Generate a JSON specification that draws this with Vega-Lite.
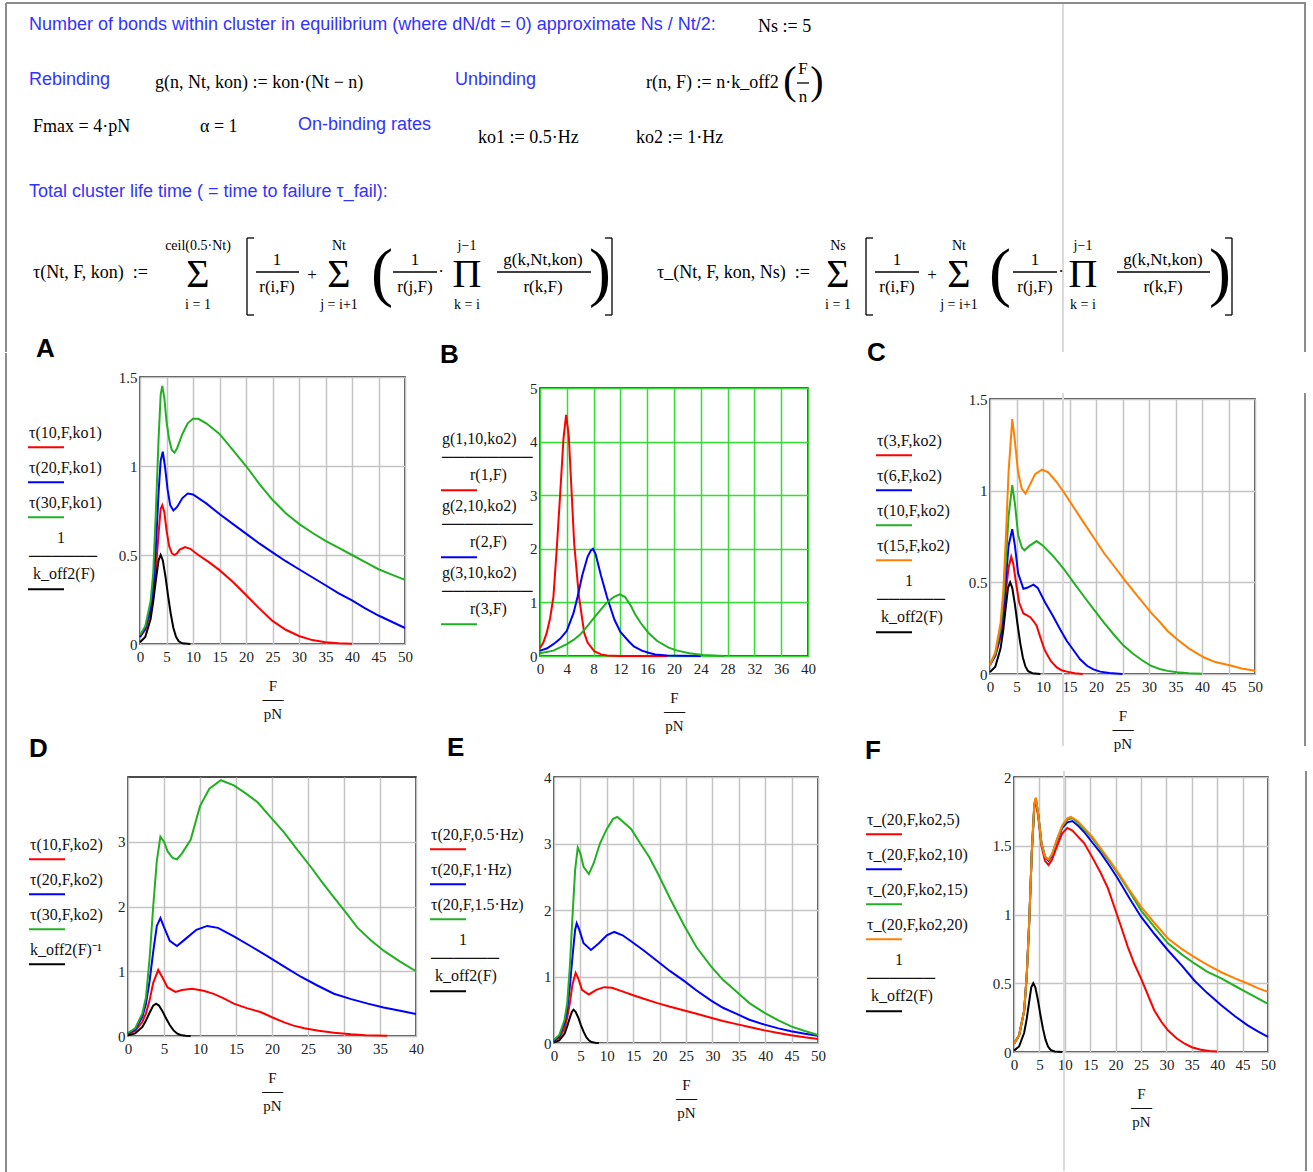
{
"$schema": "https://vega.github.io/schema/vega-lite/v6.json",
"background": "white",
"padding": {"left": 5, "top": 0, "right": 0, "bottom": 0},
"spacing": -18,
"resolve": {"scale": {"x": "independent", "y": "independent", "color": "independent", "shape": "independent"}},
"config": {
  "view": {"stroke": "#111", "strokeWidth": 1.5},
  "axis": {"labelFont": "Liberation Serif", "labelFontSize": 15, "labelColor": "#222", "ticks": false, "domain": false, "gridColor": "#c4c4c4", "gridWidth": 1.5, "titleFont": "Liberation Serif", "titleFontSize": 15, "titleFontWeight": "normal", "titleColor": "#111", "labelFlush": false, "labelOverlap": false, "labelBound": false},
  "axisY": {"title": null, "labelPadding": 3, "format": "~g"},
  "axisX": {"labelPadding": 5, "titlePadding": 14, "titleLineHeight": 14},
  "legend": {"orient": "none", "symbolType": "M-1,0.35L1,0.35", "symbolSize": 1296, "symbolStrokeWidth": 3, "labelOffset": -36, "labelBaseline": "bottom", "labelFont": "Liberation Serif", "labelFontSize": 16, "labelColor": "#111", "labelLimit": 400, "rowPadding": 5, "padding": 0},
  "title": {"font": "Liberation Sans", "fontSize": 26, "fontWeight": "bold", "color": "#000", "anchor": "start", "frame": "bounds"},
  "line": {"strokeWidth": 2, "clip": true}
},
"datasets": {
  "hFrame": [
    {"x": 6, "x2": 1306, "y": 3, "y2": 3},
    {"x": 6, "x2": 6, "y": 3, "y2": 352},
    {"x": 1305, "x2": 1305, "y": 3, "y2": 352}
  ],
  "hFaint": [
    {"x": 1063, "x2": 1063, "y": 4, "y2": 352}
  ],
  "hRules": [
    {"x": 256, "x2": 299, "y": 272, "y2": 272},
    {"x": 393, "x2": 437, "y": 272, "y2": 272},
    {"x": 497, "x2": 591, "y": 272, "y2": 272},
    {"x": 875, "x2": 919, "y": 272, "y2": 272},
    {"x": 1013, "x2": 1057, "y": 272, "y2": 272},
    {"x": 1117, "x2": 1210, "y": 272, "y2": 272},
    {"x": 797, "x2": 809, "y": 83, "y2": 83},
    {"x": 247, "x2": 247, "y": 238, "y2": 315},
    {"x": 247, "x2": 254, "y": 238, "y2": 238},
    {"x": 247, "x2": 254, "y": 315, "y2": 315},
    {"x": 612, "x2": 612, "y": 238, "y2": 315},
    {"x": 605, "x2": 612, "y": 238, "y2": 238},
    {"x": 605, "x2": 612, "y": 315, "y2": 315},
    {"x": 866, "x2": 866, "y": 238, "y2": 315},
    {"x": 866, "x2": 873, "y": 238, "y2": 238},
    {"x": 866, "x2": 873, "y": 315, "y2": 315},
    {"x": 1232, "x2": 1232, "y": 238, "y2": 315},
    {"x": 1225, "x2": 1232, "y": 238, "y2": 238},
    {"x": 1225, "x2": 1232, "y": 315, "y2": 315}
  ],
  "hProse": [
    {"x": 29, "y": 25, "t": "Number of bonds within cluster in equilibrium (where dN/dt = 0) approximate Ns / Nt/2:"},
    {"x": 29, "y": 80, "t": "Rebinding"},
    {"x": 455, "y": 80, "t": "Unbinding"},
    {"x": 298, "y": 125, "t": "On-binding rates"},
    {"x": 29, "y": 192, "t": "Total cluster life time ( = time to failure τ_fail):"}
  ],
  "hMath": [
    {"x": 758, "y": 27, "t": "Ns := 5"},
    {"x": 155, "y": 83, "t": "g(n, Nt, kon) := kon·(Nt − n)"},
    {"x": 646, "y": 83, "t": "r(n, F) := n·k_off2"},
    {"x": 33, "y": 127, "t": "Fmax = 4·pN"},
    {"x": 200, "y": 127, "t": "α = 1"},
    {"x": 478, "y": 138, "t": "ko1 := 0.5·Hz"},
    {"x": 636, "y": 138, "t": "ko2 := 1·Hz"},
    {"x": 33, "y": 273, "t": "τ(Nt, F, kon)\u00a0\u00a0:="},
    {"x": 657, "y": 273, "t": "τ_(Nt, F, kon, Ns)\u00a0\u00a0:="}
  ],
  "hCenter": [
    {"x": 803, "y": 69, "t": "F"}, {"x": 803, "y": 97, "t": "n"},
    {"x": 277, "y": 260, "t": "1"}, {"x": 277, "y": 287, "t": "r(i,F)"},
    {"x": 312, "y": 275, "t": "+"},
    {"x": 415, "y": 260, "t": "1"}, {"x": 415, "y": 287, "t": "r(j,F)"},
    {"x": 441, "y": 272, "t": "·"},
    {"x": 543, "y": 260, "t": "g(k,Nt,kon)"}, {"x": 543, "y": 287, "t": "r(k,F)"},
    {"x": 897, "y": 260, "t": "1"}, {"x": 897, "y": 287, "t": "r(i,F)"},
    {"x": 932, "y": 275, "t": "+"},
    {"x": 1035, "y": 260, "t": "1"}, {"x": 1035, "y": 287, "t": "r(j,F)"},
    {"x": 1061, "y": 272, "t": "·"},
    {"x": 1163, "y": 260, "t": "g(k,Nt,kon)"}, {"x": 1163, "y": 287, "t": "r(k,F)"}
  ],
  "hLimits": [
    {"x": 198, "y": 246, "t": "ceil(0.5·Nt)"}, {"x": 198, "y": 305, "t": "i = 1"},
    {"x": 339, "y": 246, "t": "Nt"}, {"x": 339, "y": 305, "t": "j = i+1"},
    {"x": 467, "y": 246, "t": "j−1"}, {"x": 467, "y": 305, "t": "k = i"},
    {"x": 838, "y": 246, "t": "Ns"}, {"x": 838, "y": 305, "t": "i = 1"},
    {"x": 959, "y": 246, "t": "Nt"}, {"x": 959, "y": 305, "t": "j = i+1"},
    {"x": 1083, "y": 246, "t": "j−1"}, {"x": 1083, "y": 305, "t": "k = i"}
  ],
  "hBig": [
    {"x": 198, "y": 275, "t": "Σ"}, {"x": 339, "y": 275, "t": "Σ"}, {"x": 467, "y": 275, "t": "Π"},
    {"x": 838, "y": 275, "t": "Σ"}, {"x": 959, "y": 275, "t": "Σ"}, {"x": 1083, "y": 275, "t": "Π"}
  ],
  "hParen": [
    {"x": 382, "y": 274, "t": "("}, {"x": 600, "y": 274, "t": ")"},
    {"x": 1000, "y": 274, "t": "("}, {"x": 1220, "y": 274, "t": ")"}
  ],
  "hParenSmall": [
    {"x": 790, "y": 82, "t": "("}, {"x": 817, "y": 82, "t": ")"}
  ],
  "A": [
    {"s":"r","F":0,"v":0.04},{"s":"r","F":1,"v":0.08},{"s":"r","F":2,"v":0.18},{"s":"r","F":2.5,"v":0.27},{"s":"r","F":3,"v":0.42},{"s":"r","F":3.5,"v":0.62},{"s":"r","F":3.9,"v":0.76},{"s":"r","F":4.2,"v":0.78},{"s":"r","F":4.6,"v":0.74},{"s":"r","F":5,"v":0.64},{"s":"r","F":5.5,"v":0.55},{"s":"r","F":6,"v":0.51},{"s":"r","F":6.5,"v":0.5},{"s":"r","F":7,"v":0.51},{"s":"r","F":7.5,"v":0.53},{"s":"r","F":8.5,"v":0.545},{"s":"r","F":9.5,"v":0.535},{"s":"r","F":11,"v":0.5},{"s":"r","F":13,"v":0.46},{"s":"r","F":15,"v":0.415},{"s":"r","F":17.5,"v":0.35},{"s":"r","F":20,"v":0.275},{"s":"r","F":22.5,"v":0.2},{"s":"r","F":25,"v":0.13},{"s":"r","F":27.5,"v":0.08},{"s":"r","F":30,"v":0.045},{"s":"r","F":32.5,"v":0.022},{"s":"r","F":35,"v":0.01},{"s":"r","F":37.5,"v":0.004},{"s":"r","F":40,"v":0.002},
    {"s":"b","F":0,"v":0.04},{"s":"b","F":1,"v":0.09},{"s":"b","F":2,"v":0.2},{"s":"b","F":2.5,"v":0.32},{"s":"b","F":3,"v":0.55},{"s":"b","F":3.5,"v":0.85},{"s":"b","F":3.9,"v":1.03},{"s":"b","F":4.3,"v":1.08},{"s":"b","F":4.7,"v":1.0},{"s":"b","F":5.2,"v":0.87},{"s":"b","F":5.7,"v":0.78},{"s":"b","F":6.3,"v":0.75},{"s":"b","F":7,"v":0.77},{"s":"b","F":8,"v":0.82},{"s":"b","F":9,"v":0.845},{"s":"b","F":10,"v":0.84},{"s":"b","F":12.5,"v":0.79},{"s":"b","F":15,"v":0.73},{"s":"b","F":17.5,"v":0.675},{"s":"b","F":20,"v":0.62},{"s":"b","F":22.5,"v":0.565},{"s":"b","F":25,"v":0.515},{"s":"b","F":27.5,"v":0.465},{"s":"b","F":30,"v":0.42},{"s":"b","F":32.5,"v":0.375},{"s":"b","F":35,"v":0.33},{"s":"b","F":37.5,"v":0.285},{"s":"b","F":40,"v":0.245},{"s":"b","F":42.5,"v":0.2},{"s":"b","F":45,"v":0.16},{"s":"b","F":47.5,"v":0.125},{"s":"b","F":50,"v":0.09},
    {"s":"g","F":0,"v":0.05},{"s":"g","F":1,"v":0.1},{"s":"g","F":2,"v":0.24},{"s":"g","F":2.5,"v":0.4},{"s":"g","F":3,"v":0.75},{"s":"g","F":3.5,"v":1.15},{"s":"g","F":3.9,"v":1.4},{"s":"g","F":4.2,"v":1.45},{"s":"g","F":4.6,"v":1.38},{"s":"g","F":5,"v":1.25},{"s":"g","F":5.5,"v":1.15},{"s":"g","F":6,"v":1.09},{"s":"g","F":6.5,"v":1.075},{"s":"g","F":7,"v":1.1},{"s":"g","F":8,"v":1.18},{"s":"g","F":9,"v":1.24},{"s":"g","F":10,"v":1.265},{"s":"g","F":11,"v":1.265},{"s":"g","F":12.5,"v":1.24},{"s":"g","F":15,"v":1.18},{"s":"g","F":17.5,"v":1.09},{"s":"g","F":20,"v":1.0},{"s":"g","F":22.5,"v":0.9},{"s":"g","F":25,"v":0.81},{"s":"g","F":27.5,"v":0.735},{"s":"g","F":30,"v":0.675},{"s":"g","F":32.5,"v":0.625},{"s":"g","F":35,"v":0.58},{"s":"g","F":37.5,"v":0.54},{"s":"g","F":40,"v":0.5},{"s":"g","F":42.5,"v":0.46},{"s":"g","F":45,"v":0.42},{"s":"g","F":47.5,"v":0.39},{"s":"g","F":50,"v":0.36},
    {"s":"k","F":0,"v":0.01},{"s":"k","F":1,"v":0.04},{"s":"k","F":2,"v":0.14},{"s":"k","F":2.5,"v":0.24},{"s":"k","F":3,"v":0.36},{"s":"k","F":3.5,"v":0.47},{"s":"k","F":3.9,"v":0.5},{"s":"k","F":4.3,"v":0.47},{"s":"k","F":4.8,"v":0.38},{"s":"k","F":5.3,"v":0.27},{"s":"k","F":5.8,"v":0.17},{"s":"k","F":6.3,"v":0.09},{"s":"k","F":6.8,"v":0.04},{"s":"k","F":7.3,"v":0.015},{"s":"k","F":8,"v":0.004},{"s":"k","F":9.5,"v":0}
  ],
  "B": [
    {"s":"r","F":0,"v":0.15},{"s":"r","F":0.5,"v":0.25},{"s":"r","F":1,"v":0.43},{"s":"r","F":1.5,"v":0.7},{"s":"r","F":2,"v":1.1},{"s":"r","F":2.5,"v":2.0},{"s":"r","F":3,"v":3.0},{"s":"r","F":3.5,"v":4.05},{"s":"r","F":3.9,"v":4.5},{"s":"r","F":4.3,"v":4.1},{"s":"r","F":4.6,"v":3.35},{"s":"r","F":5.1,"v":2.1},{"s":"r","F":5.8,"v":1.12},{"s":"r","F":6.6,"v":0.43},{"s":"r","F":7.1,"v":0.25},{"s":"r","F":8.1,"v":0.09},{"s":"r","F":9.1,"v":0.03},{"s":"r","F":10,"v":0.01},{"s":"r","F":12,"v":0.002},{"s":"r","F":19,"v":0},
    {"s":"b","F":0,"v":0.1},{"s":"b","F":1,"v":0.14},{"s":"b","F":2,"v":0.22},{"s":"b","F":3,"v":0.32},{"s":"b","F":4,"v":0.47},{"s":"b","F":5,"v":0.8},{"s":"b","F":5.6,"v":1.1},{"s":"b","F":6.3,"v":1.5},{"s":"b","F":7.1,"v":1.85},{"s":"b","F":7.6,"v":1.97},{"s":"b","F":7.9,"v":2.0},{"s":"b","F":8.3,"v":1.9},{"s":"b","F":9.1,"v":1.5},{"s":"b","F":10,"v":1.1},{"s":"b","F":11.1,"v":0.68},{"s":"b","F":12,"v":0.45},{"s":"b","F":13.2,"v":0.28},{"s":"b","F":14,"v":0.18},{"s":"b","F":15.2,"v":0.1},{"s":"b","F":16.2,"v":0.06},{"s":"b","F":17.2,"v":0.03},{"s":"b","F":19,"v":0.01},{"s":"b","F":21,"v":0.003},{"s":"b","F":24,"v":0},
    {"s":"g","F":0,"v":0.05},{"s":"g","F":2,"v":0.1},{"s":"g","F":4,"v":0.22},{"s":"g","F":5,"v":0.3},{"s":"g","F":6,"v":0.4},{"s":"g","F":7.1,"v":0.56},{"s":"g","F":8,"v":0.7},{"s":"g","F":9.1,"v":0.87},{"s":"g","F":10,"v":1.0},{"s":"g","F":11,"v":1.1},{"s":"g","F":11.9,"v":1.15},{"s":"g","F":12.7,"v":1.1},{"s":"g","F":13.5,"v":0.95},{"s":"g","F":14.2,"v":0.78},{"s":"g","F":15,"v":0.62},{"s":"g","F":16.2,"v":0.43},{"s":"g","F":17.5,"v":0.28},{"s":"g","F":19.2,"v":0.155},{"s":"g","F":20.5,"v":0.1},{"s":"g","F":22.3,"v":0.05},{"s":"g","F":24.3,"v":0.02},{"s":"g","F":26,"v":0.008},{"s":"g","F":27.5,"v":0}
  ],
  "C": [
    {"s":"r","F":0,"v":0.05},{"s":"r","F":1,"v":0.1},{"s":"r","F":2,"v":0.2},{"s":"r","F":2.5,"v":0.3},{"s":"r","F":3,"v":0.45},{"s":"r","F":3.5,"v":0.58},{"s":"r","F":4,"v":0.64},{"s":"r","F":4.4,"v":0.6},{"s":"r","F":5,"v":0.48},{"s":"r","F":5.5,"v":0.39},{"s":"r","F":6.3,"v":0.33},{"s":"r","F":7,"v":0.32},{"s":"r","F":7.6,"v":0.31},{"s":"r","F":8.3,"v":0.285},{"s":"r","F":8.8,"v":0.264},{"s":"r","F":9.5,"v":0.2},{"s":"r","F":10.2,"v":0.14},{"s":"r","F":10.7,"v":0.11},{"s":"r","F":11.5,"v":0.07},{"s":"r","F":12.6,"v":0.036},{"s":"r","F":13.5,"v":0.02},{"s":"r","F":14.5,"v":0.013},{"s":"r","F":16,"v":0.004},{"s":"r","F":17.5,"v":0},
    {"s":"b","F":0,"v":0.05},{"s":"b","F":1,"v":0.1},{"s":"b","F":2,"v":0.22},{"s":"b","F":2.5,"v":0.34},{"s":"b","F":3,"v":0.52},{"s":"b","F":3.5,"v":0.7},{"s":"b","F":4.2,"v":0.79},{"s":"b","F":4.7,"v":0.7},{"s":"b","F":5.3,"v":0.55},{"s":"b","F":6.3,"v":0.465},{"s":"b","F":7,"v":0.47},{"s":"b","F":8.2,"v":0.487},{"s":"b","F":9,"v":0.47},{"s":"b","F":10.4,"v":0.39},{"s":"b","F":11.8,"v":0.32},{"s":"b","F":13.2,"v":0.246},{"s":"b","F":14.5,"v":0.18},{"s":"b","F":15.8,"v":0.128},{"s":"b","F":17,"v":0.08},{"s":"b","F":18.3,"v":0.045},{"s":"b","F":19.5,"v":0.025},{"s":"b","F":20.8,"v":0.013},{"s":"b","F":22.5,"v":0.005},{"s":"b","F":25,"v":0},
    {"s":"g","F":0,"v":0.05},{"s":"g","F":1,"v":0.11},{"s":"g","F":2,"v":0.25},{"s":"g","F":2.5,"v":0.4},{"s":"g","F":3,"v":0.62},{"s":"g","F":3.5,"v":0.86},{"s":"g","F":4.2,"v":1.03},{"s":"g","F":4.7,"v":0.93},{"s":"g","F":5.3,"v":0.76},{"s":"g","F":6,"v":0.69},{"s":"g","F":6.5,"v":0.675},{"s":"g","F":7.5,"v":0.7},{"s":"g","F":8.8,"v":0.725},{"s":"g","F":10,"v":0.7},{"s":"g","F":12,"v":0.64},{"s":"g","F":13.9,"v":0.574},{"s":"g","F":16,"v":0.49},{"s":"g","F":17.8,"v":0.42},{"s":"g","F":19.5,"v":0.355},{"s":"g","F":21.5,"v":0.28},{"s":"g","F":23.5,"v":0.21},{"s":"g","F":25.2,"v":0.155},{"s":"g","F":27,"v":0.11},{"s":"g","F":28.7,"v":0.075},{"s":"g","F":30.3,"v":0.046},{"s":"g","F":32,"v":0.027},{"s":"g","F":33.5,"v":0.017},{"s":"g","F":35.3,"v":0.01},{"s":"g","F":37.5,"v":0.004},{"s":"g","F":40,"v":0.001},
    {"s":"o","F":0,"v":0.05},{"s":"o","F":1,"v":0.12},{"s":"o","F":2,"v":0.28},{"s":"o","F":2.5,"v":0.45},{"s":"o","F":3,"v":0.75},{"s":"o","F":3.5,"v":1.1},{"s":"o","F":4.2,"v":1.39},{"s":"o","F":4.7,"v":1.27},{"s":"o","F":5.3,"v":1.1},{"s":"o","F":6,"v":1.01},{"s":"o","F":6.7,"v":0.984},{"s":"o","F":7.5,"v":1.03},{"s":"o","F":8.5,"v":1.09},{"s":"o","F":9.8,"v":1.115},{"s":"o","F":11,"v":1.1},{"s":"o","F":12.5,"v":1.05},{"s":"o","F":13.9,"v":0.993},{"s":"o","F":16,"v":0.9},{"s":"o","F":17.8,"v":0.82},{"s":"o","F":19.5,"v":0.747},{"s":"o","F":21.5,"v":0.66},{"s":"o","F":23.5,"v":0.585},{"s":"o","F":25.2,"v":0.52},{"s":"o","F":27,"v":0.455},{"s":"o","F":28.7,"v":0.395},{"s":"o","F":30.3,"v":0.337},{"s":"o","F":32,"v":0.285},{"s":"o","F":33.5,"v":0.235},{"s":"o","F":35.3,"v":0.19},{"s":"o","F":37.5,"v":0.14},{"s":"o","F":40.4,"v":0.09},{"s":"o","F":42.5,"v":0.065},{"s":"o","F":45.4,"v":0.046},{"s":"o","F":47.5,"v":0.03},{"s":"o","F":50,"v":0.018},
    {"s":"k","F":0,"v":0.01},{"s":"k","F":1,"v":0.04},{"s":"k","F":2,"v":0.14},{"s":"k","F":2.5,"v":0.24},{"s":"k","F":3,"v":0.37},{"s":"k","F":3.4,"v":0.47},{"s":"k","F":3.8,"v":0.5},{"s":"k","F":4.2,"v":0.47},{"s":"k","F":4.7,"v":0.38},{"s":"k","F":5.2,"v":0.27},{"s":"k","F":5.7,"v":0.17},{"s":"k","F":6.2,"v":0.09},{"s":"k","F":6.7,"v":0.04},{"s":"k","F":7.2,"v":0.015},{"s":"k","F":8,"v":0.004},{"s":"k","F":9.5,"v":0}
  ],
  "D": [
    {"s":"r","F":0,"v":0.03},{"s":"r","F":1,"v":0.08},{"s":"r","F":2,"v":0.22},{"s":"r","F":2.5,"v":0.35},{"s":"r","F":3,"v":0.55},{"s":"r","F":3.5,"v":0.82},{"s":"r","F":4.2,"v":1.02},{"s":"r","F":4.8,"v":0.9},{"s":"r","F":5.5,"v":0.75},{"s":"r","F":6.6,"v":0.68},{"s":"r","F":7.5,"v":0.71},{"s":"r","F":8.9,"v":0.73},{"s":"r","F":10.5,"v":0.7},{"s":"r","F":11.9,"v":0.65},{"s":"r","F":13.3,"v":0.58},{"s":"r","F":14.7,"v":0.5},{"s":"r","F":16.5,"v":0.43},{"s":"r","F":18.4,"v":0.37},{"s":"r","F":20,"v":0.29},{"s":"r","F":21.7,"v":0.21},{"s":"r","F":23,"v":0.16},{"s":"r","F":24.5,"v":0.12},{"s":"r","F":26.5,"v":0.08},{"s":"r","F":28.6,"v":0.05},{"s":"r","F":31,"v":0.026},{"s":"r","F":33,"v":0.012},{"s":"r","F":36,"v":0.003},
    {"s":"b","F":0,"v":0.04},{"s":"b","F":1,"v":0.1},{"s":"b","F":2,"v":0.3},{"s":"b","F":2.5,"v":0.5},{"s":"b","F":3,"v":0.85},{"s":"b","F":3.5,"v":1.3},{"s":"b","F":4,"v":1.7},{"s":"b","F":4.5,"v":1.82},{"s":"b","F":5,"v":1.68},{"s":"b","F":5.8,"v":1.47},{"s":"b","F":6.8,"v":1.39},{"s":"b","F":8,"v":1.5},{"s":"b","F":9.5,"v":1.64},{"s":"b","F":11,"v":1.7},{"s":"b","F":12.5,"v":1.67},{"s":"b","F":14.7,"v":1.54},{"s":"b","F":17,"v":1.39},{"s":"b","F":19.4,"v":1.23},{"s":"b","F":21.7,"v":1.07},{"s":"b","F":24,"v":0.915},{"s":"b","F":26.3,"v":0.78},{"s":"b","F":28.6,"v":0.653},{"s":"b","F":31,"v":0.57},{"s":"b","F":33.3,"v":0.5},{"s":"b","F":35.5,"v":0.44},{"s":"b","F":37.8,"v":0.39},{"s":"b","F":40,"v":0.34},
    {"s":"g","F":0,"v":0.05},{"s":"g","F":1,"v":0.12},{"s":"g","F":2,"v":0.35},{"s":"g","F":2.5,"v":0.6},{"s":"g","F":3,"v":1.2},{"s":"g","F":3.5,"v":2.0},{"s":"g","F":4,"v":2.7},{"s":"g","F":4.5,"v":3.08},{"s":"g","F":5,"v":3.0},{"s":"g","F":5.5,"v":2.85},{"s":"g","F":6.2,"v":2.75},{"s":"g","F":6.8,"v":2.73},{"s":"g","F":7.5,"v":2.82},{"s":"g","F":8.7,"v":3.03},{"s":"g","F":10,"v":3.55},{"s":"g","F":11.3,"v":3.82},{"s":"g","F":12.9,"v":3.95},{"s":"g","F":14.7,"v":3.87},{"s":"g","F":16.3,"v":3.75},{"s":"g","F":18,"v":3.61},{"s":"g","F":19.8,"v":3.38},{"s":"g","F":21.7,"v":3.14},{"s":"g","F":23.5,"v":2.88},{"s":"g","F":25.4,"v":2.61},{"s":"g","F":27,"v":2.37},{"s":"g","F":28.6,"v":2.14},{"s":"g","F":30.3,"v":1.9},{"s":"g","F":31.9,"v":1.67},{"s":"g","F":33.8,"v":1.47},{"s":"g","F":35.6,"v":1.31},{"s":"g","F":37.8,"v":1.15},{"s":"g","F":40,"v":1.0},
    {"s":"k","F":0,"v":0.01},{"s":"k","F":1,"v":0.04},{"s":"k","F":2,"v":0.14},{"s":"k","F":2.5,"v":0.24},{"s":"k","F":3,"v":0.36},{"s":"k","F":3.5,"v":0.47},{"s":"k","F":3.9,"v":0.5},{"s":"k","F":4.3,"v":0.47},{"s":"k","F":4.8,"v":0.38},{"s":"k","F":5.3,"v":0.27},{"s":"k","F":5.8,"v":0.17},{"s":"k","F":6.3,"v":0.09},{"s":"k","F":6.8,"v":0.04},{"s":"k","F":7.3,"v":0.015},{"s":"k","F":8,"v":0.004},{"s":"k","F":8.7,"v":0}
  ],
  "E": [
    {"s":"r","F":0,"v":0.03},{"s":"r","F":1,"v":0.08},{"s":"r","F":2,"v":0.22},{"s":"r","F":2.5,"v":0.38},{"s":"r","F":3,"v":0.6},{"s":"r","F":3.5,"v":0.88},{"s":"r","F":4.1,"v":1.055},{"s":"r","F":4.6,"v":0.97},{"s":"r","F":5.3,"v":0.8},{"s":"r","F":6.6,"v":0.73},{"s":"r","F":8,"v":0.8},{"s":"r","F":9.5,"v":0.84},{"s":"r","F":11,"v":0.83},{"s":"r","F":12.8,"v":0.78},{"s":"r","F":14.6,"v":0.73},{"s":"r","F":17,"v":0.665},{"s":"r","F":19.6,"v":0.6},{"s":"r","F":22,"v":0.545},{"s":"r","F":24.7,"v":0.49},{"s":"r","F":27,"v":0.44},{"s":"r","F":29.7,"v":0.38},{"s":"r","F":32,"v":0.33},{"s":"r","F":34.8,"v":0.28},{"s":"r","F":37,"v":0.24},{"s":"r","F":39.9,"v":0.19},{"s":"r","F":42.5,"v":0.15},{"s":"r","F":44.9,"v":0.116},{"s":"r","F":47.5,"v":0.085},{"s":"r","F":50,"v":0.06},
    {"s":"b","F":0,"v":0.04},{"s":"b","F":1,"v":0.1},{"s":"b","F":2,"v":0.3},{"s":"b","F":2.5,"v":0.5},{"s":"b","F":3,"v":0.85},{"s":"b","F":3.5,"v":1.3},{"s":"b","F":4,"v":1.7},{"s":"b","F":4.3,"v":1.8},{"s":"b","F":4.8,"v":1.7},{"s":"b","F":5.6,"v":1.5},{"s":"b","F":7,"v":1.4},{"s":"b","F":8.5,"v":1.5},{"s":"b","F":10,"v":1.62},{"s":"b","F":11.4,"v":1.67},{"s":"b","F":13,"v":1.62},{"s":"b","F":14.6,"v":1.53},{"s":"b","F":17,"v":1.39},{"s":"b","F":19.6,"v":1.23},{"s":"b","F":22,"v":1.08},{"s":"b","F":24.7,"v":0.93},{"s":"b","F":27,"v":0.79},{"s":"b","F":29.7,"v":0.64},{"s":"b","F":32,"v":0.53},{"s":"b","F":34.8,"v":0.43},{"s":"b","F":37,"v":0.35},{"s":"b","F":39.9,"v":0.276},{"s":"b","F":42.5,"v":0.22},{"s":"b","F":44.9,"v":0.176},{"s":"b","F":47.5,"v":0.14},{"s":"b","F":50,"v":0.11},
    {"s":"g","F":0,"v":0.05},{"s":"g","F":1,"v":0.12},{"s":"g","F":2,"v":0.35},{"s":"g","F":2.5,"v":0.6},{"s":"g","F":3,"v":1.15},{"s":"g","F":3.5,"v":1.9},{"s":"g","F":4,"v":2.6},{"s":"g","F":4.5,"v":2.94},{"s":"g","F":5,"v":2.85},{"s":"g","F":5.6,"v":2.65},{"s":"g","F":6.6,"v":2.54},{"s":"g","F":7.5,"v":2.7},{"s":"g","F":8.7,"v":3.0},{"s":"g","F":10,"v":3.22},{"s":"g","F":11.2,"v":3.37},{"s":"g","F":12,"v":3.4},{"s":"g","F":13,"v":3.33},{"s":"g","F":14.6,"v":3.22},{"s":"g","F":16.5,"v":2.98},{"s":"g","F":18,"v":2.8},{"s":"g","F":19.6,"v":2.56},{"s":"g","F":22,"v":2.17},{"s":"g","F":24.7,"v":1.76},{"s":"g","F":27,"v":1.44},{"s":"g","F":29.7,"v":1.156},{"s":"g","F":32,"v":0.95},{"s":"g","F":34.8,"v":0.754},{"s":"g","F":37,"v":0.6},{"s":"g","F":39.9,"v":0.452},{"s":"g","F":42.5,"v":0.34},{"s":"g","F":44.9,"v":0.25},{"s":"g","F":47.5,"v":0.18},{"s":"g","F":50,"v":0.12},
    {"s":"k","F":0,"v":0.01},{"s":"k","F":1,"v":0.04},{"s":"k","F":2,"v":0.14},{"s":"k","F":2.5,"v":0.25},{"s":"k","F":3,"v":0.38},{"s":"k","F":3.4,"v":0.47},{"s":"k","F":3.7,"v":0.5},{"s":"k","F":4.1,"v":0.47},{"s":"k","F":4.6,"v":0.38},{"s":"k","F":5.1,"v":0.27},{"s":"k","F":5.6,"v":0.17},{"s":"k","F":6.1,"v":0.09},{"s":"k","F":6.6,"v":0.04},{"s":"k","F":7.1,"v":0.015},{"s":"k","F":7.8,"v":0.004},{"s":"k","F":8.5,"v":0}
  ],
  "F": [
    {"s":"r","F":0,"v":0.06},{"s":"r","F":1,"v":0.12},{"s":"r","F":2,"v":0.3},{"s":"r","F":2.5,"v":0.55},{"s":"r","F":3,"v":0.95},{"s":"r","F":3.5,"v":1.45},{"s":"r","F":4,"v":1.78},{"s":"r","F":4.3,"v":1.83},{"s":"r","F":4.8,"v":1.7},{"s":"r","F":5.4,"v":1.5},{"s":"r","F":6.1,"v":1.39},{"s":"r","F":6.8,"v":1.36},{"s":"r","F":7.5,"v":1.4},{"s":"r","F":8.5,"v":1.5},{"s":"r","F":9.5,"v":1.59},{"s":"r","F":10.5,"v":1.63},{"s":"r","F":11.5,"v":1.61},{"s":"r","F":12.5,"v":1.57},{"s":"r","F":13.8,"v":1.52},{"s":"r","F":15.5,"v":1.41},{"s":"r","F":17.1,"v":1.3},{"s":"r","F":18.5,"v":1.19},{"s":"r","F":19.7,"v":1.06},{"s":"r","F":21,"v":0.92},{"s":"r","F":22.4,"v":0.765},{"s":"r","F":23.7,"v":0.64},{"s":"r","F":25,"v":0.535},{"s":"r","F":26.3,"v":0.42},{"s":"r","F":27.6,"v":0.304},{"s":"r","F":29,"v":0.22},{"s":"r","F":30.3,"v":0.158},{"s":"r","F":32,"v":0.1},{"s":"r","F":33.6,"v":0.06},{"s":"r","F":35,"v":0.035},{"s":"r","F":36.8,"v":0.017},{"s":"r","F":38.5,"v":0.007},{"s":"r","F":40,"v":0.003},
    {"s":"b","F":0,"v":0.06},{"s":"b","F":1,"v":0.12},{"s":"b","F":2,"v":0.3},{"s":"b","F":2.5,"v":0.55},{"s":"b","F":3,"v":0.95},{"s":"b","F":3.5,"v":1.45},{"s":"b","F":4,"v":1.8},{"s":"b","F":4.3,"v":1.84},{"s":"b","F":4.8,"v":1.72},{"s":"b","F":5.4,"v":1.52},{"s":"b","F":6.1,"v":1.42},{"s":"b","F":6.8,"v":1.39},{"s":"b","F":7.5,"v":1.43},{"s":"b","F":8.5,"v":1.54},{"s":"b","F":9.5,"v":1.63},{"s":"b","F":10.5,"v":1.67},{"s":"b","F":11.5,"v":1.68},{"s":"b","F":12.5,"v":1.65},{"s":"b","F":13.8,"v":1.6},{"s":"b","F":15.5,"v":1.52},{"s":"b","F":17.1,"v":1.446},{"s":"b","F":18.7,"v":1.36},{"s":"b","F":20.4,"v":1.264},{"s":"b","F":22.7,"v":1.12},{"s":"b","F":25,"v":0.984},{"s":"b","F":27.6,"v":0.86},{"s":"b","F":30.3,"v":0.74},{"s":"b","F":33,"v":0.63},{"s":"b","F":35.5,"v":0.52},{"s":"b","F":38,"v":0.43},{"s":"b","F":40.8,"v":0.34},{"s":"b","F":43.5,"v":0.26},{"s":"b","F":46,"v":0.194},{"s":"b","F":48,"v":0.15},{"s":"b","F":50,"v":0.11},
    {"s":"g","F":0,"v":0.06},{"s":"g","F":1,"v":0.12},{"s":"g","F":2,"v":0.3},{"s":"g","F":2.5,"v":0.55},{"s":"g","F":3,"v":0.95},{"s":"g","F":3.5,"v":1.45},{"s":"g","F":4,"v":1.8},{"s":"g","F":4.3,"v":1.845},{"s":"g","F":4.8,"v":1.72},{"s":"g","F":5.4,"v":1.52},{"s":"g","F":6.1,"v":1.42},{"s":"g","F":6.8,"v":1.4},{"s":"g","F":7.5,"v":1.44},{"s":"g","F":8.5,"v":1.55},{"s":"g","F":9.5,"v":1.64},{"s":"g","F":10.5,"v":1.69},{"s":"g","F":11.5,"v":1.7},{"s":"g","F":12.5,"v":1.67},{"s":"g","F":13.8,"v":1.62},{"s":"g","F":15.5,"v":1.55},{"s":"g","F":17.1,"v":1.47},{"s":"g","F":18.7,"v":1.39},{"s":"g","F":20.4,"v":1.3},{"s":"g","F":22.7,"v":1.17},{"s":"g","F":25,"v":1.03},{"s":"g","F":27.6,"v":0.91},{"s":"g","F":30.3,"v":0.79},{"s":"g","F":33,"v":0.71},{"s":"g","F":35.5,"v":0.644},{"s":"g","F":38,"v":0.585},{"s":"g","F":40.8,"v":0.535},{"s":"g","F":43.5,"v":0.48},{"s":"g","F":46,"v":0.43},{"s":"g","F":48,"v":0.39},{"s":"g","F":50,"v":0.35},
    {"s":"o","F":0,"v":0.06},{"s":"o","F":1,"v":0.12},{"s":"o","F":2,"v":0.3},{"s":"o","F":2.5,"v":0.55},{"s":"o","F":3,"v":0.95},{"s":"o","F":3.5,"v":1.45},{"s":"o","F":4,"v":1.81},{"s":"o","F":4.3,"v":1.85},{"s":"o","F":4.8,"v":1.72},{"s":"o","F":5.4,"v":1.52},{"s":"o","F":6.1,"v":1.42},{"s":"o","F":6.8,"v":1.4},{"s":"o","F":7.5,"v":1.44},{"s":"o","F":8.5,"v":1.55},{"s":"o","F":9.5,"v":1.65},{"s":"o","F":10.5,"v":1.7},{"s":"o","F":11.2,"v":1.71},{"s":"o","F":12.5,"v":1.68},{"s":"o","F":13.8,"v":1.63},{"s":"o","F":15.5,"v":1.56},{"s":"o","F":17.1,"v":1.48},{"s":"o","F":18.7,"v":1.4},{"s":"o","F":20.4,"v":1.31},{"s":"o","F":22.7,"v":1.18},{"s":"o","F":25,"v":1.057},{"s":"o","F":27.6,"v":0.94},{"s":"o","F":30.3,"v":0.826},{"s":"o","F":33,"v":0.75},{"s":"o","F":35.5,"v":0.69},{"s":"o","F":38,"v":0.635},{"s":"o","F":40.8,"v":0.58},{"s":"o","F":43.5,"v":0.535},{"s":"o","F":46,"v":0.498},{"s":"o","F":48,"v":0.465},{"s":"o","F":50,"v":0.437},
    {"s":"k","F":0,"v":0.01},{"s":"k","F":1,"v":0.04},{"s":"k","F":2,"v":0.14},{"s":"k","F":2.5,"v":0.24},{"s":"k","F":3,"v":0.37},{"s":"k","F":3.4,"v":0.47},{"s":"k","F":3.8,"v":0.5},{"s":"k","F":4.2,"v":0.47},{"s":"k","F":4.7,"v":0.38},{"s":"k","F":5.2,"v":0.27},{"s":"k","F":5.7,"v":0.17},{"s":"k","F":6.2,"v":0.09},{"s":"k","F":6.7,"v":0.04},{"s":"k","F":7.2,"v":0.015},{"s":"k","F":8,"v":0.004},{"s":"k","F":9.5,"v":0}
  ]
},
"vconcat": [
  {
    "width": 1180, "height": 352,
    "view": {"stroke": null},
    "encoding": {
      "x": {"field": "x", "type": "quantitative", "scale": {"domain": [127, 1307], "nice": false, "zero": false}, "axis": null},
      "y": {"field": "y", "type": "quantitative", "scale": {"domain": [0, 352], "reverse": true, "nice": false, "zero": false}, "axis": null}
    },
    "layer": [
      {"data": {"name": "hFaint"}, "mark": {"type": "rule", "color": "#dadada", "strokeWidth": 2}, "encoding": {"x2": {"field": "x2"}, "y2": {"field": "y2"}}},
      {"data": {"name": "hFrame"}, "mark": {"type": "rule", "color": "#8c8c8c", "strokeWidth": 2}, "encoding": {"x2": {"field": "x2"}, "y2": {"field": "y2"}}},
      {"data": {"name": "hRules"}, "mark": {"type": "rule", "color": "#000", "strokeWidth": 1.3}, "encoding": {"x2": {"field": "x2"}, "y2": {"field": "y2"}}},
      {"data": {"name": "hProse"}, "mark": {"type": "text", "font": "Liberation Sans", "fontSize": 18, "color": "#3333ff", "align": "left", "baseline": "middle"}, "encoding": {"text": {"field": "t"}}},
      {"data": {"name": "hMath"}, "mark": {"type": "text", "font": "Liberation Serif", "fontSize": 18, "color": "#000", "align": "left", "baseline": "middle"}, "encoding": {"text": {"field": "t"}}},
      {"data": {"name": "hCenter"}, "mark": {"type": "text", "font": "Liberation Serif", "fontSize": 17, "color": "#000", "align": "center", "baseline": "middle"}, "encoding": {"text": {"field": "t"}}},
      {"data": {"name": "hLimits"}, "mark": {"type": "text", "font": "Liberation Serif", "fontSize": 14, "color": "#000", "align": "center", "baseline": "middle"}, "encoding": {"text": {"field": "t"}}},
      {"data": {"name": "hBig"}, "mark": {"type": "text", "font": "Liberation Serif", "fontSize": 40, "color": "#000", "align": "center", "baseline": "middle"}, "encoding": {"text": {"field": "t"}}},
      {"data": {"name": "hParen"}, "mark": {"type": "text", "font": "Liberation Serif", "fontSize": 66, "color": "#000", "align": "center", "baseline": "middle"}, "encoding": {"text": {"field": "t"}}},
      {"data": {"name": "hParenSmall"}, "mark": {"type": "text", "font": "Liberation Serif", "fontSize": 40, "color": "#000", "align": "center", "baseline": "middle"}, "encoding": {"text": {"field": "t"}}}
    ]
  },
  {
    "spacing": -105,
    "resolve": {"scale": {"x": "independent", "y": "independent", "color": "independent", "shape": "independent"}},
    "hconcat": [
      {
        "width": 1, "height": 1, "view": {"stroke": null},
        "layer": [
          {"data": {"values": [{}]}, "mark": {"type": "point", "opacity": 0}},
          {"data": {"values": [{"x": -121, "y": 25, "y2": -368}]}, "mark": {"type": "rule", "color": "#8c8c8c", "strokeWidth": 2},
           "encoding": {
             "x": {"field": "x", "type": "quantitative", "scale": {"domain": [0, 1], "nice": false, "zero": false}, "axis": null},
             "y": {"field": "y", "type": "quantitative", "scale": {"domain": [0, 1], "nice": false, "zero": false}, "axis": null},
             "y2": {"field": "y2"}}}
        ]
      },
      {
        "spacing": 25,
        "resolve": {"scale": {"x": "independent", "y": "independent", "color": "independent", "shape": "independent"}},
        "hconcat": [
          {
            "title": {"text": "A", "offset": 8, "dx": 9},
            "width": 265, "height": 267,
            "data": {"name": "A"},
            "encoding": {
              "x": {"field": "F", "type": "quantitative", "scale": {"domain": [0, 50], "nice": false}, "axis": {"values": [0,5,10,15,20,25,30,35,40,45,50], "title": ["F", "──", "pN"]}},
              "y": {"field": "v", "type": "quantitative", "scale": {"domain": [0, 1.5], "nice": false}, "axis": {"values": [0, 0.5, 1, 1.5]}},
              "color": {"field": "s", "type": "nominal", "scale": {"domain": ["r","b","g","k"], "range": ["#ff0000","#0000ff","#22b022","#000000"]},
                "legend": {"title": null, "legendX": -113, "legendY": 45,
                  "labelExpr": "{'r':['τ(10,F,ko1)'],'b':['τ(20,F,ko1)'],'g':['τ(30,F,ko1)'],'k':['\u200b\u00a0\u00a0\u00a0\u00a0\u00a0\u00a0\u00a01','──────','\u200b\u00a0k_off2(F)']}[datum.value]"}}
            },
            "layer": [
              {"mark": "line"},
              {"transform": [{"filter": "false"}], "mark": {"type": "point", "filled": false, "opacity": 1},
               "encoding": {"shape": {"field": "s", "type": "nominal", "scale": {"domain": ["r","b","g","k"], "range": ["M-1,0.35L1,0.35","M-1,0.35L1,0.35","M-1,0.35L1,0.35","M-1,2.4L1,2.4"]}}}}
            ]
          },
          {
            "spacing": -40,
            "resolve": {"scale": {"x": "independent", "y": "independent", "color": "independent", "shape": "independent"}},
            "vconcat": [
              {"width": 1, "height": 1, "view": {"stroke": null}, "data": {"values": [{}]}, "mark": {"type": "point", "opacity": 0}},
              {
                "title": {"text": "B", "offset": 13, "dx": 0},
                "width": 268, "height": 268,
                "data": {"name": "B"},
                "mark": "line",
                "encoding": {
                  "x": {"field": "F", "type": "quantitative", "scale": {"domain": [0, 40], "nice": false}, "axis": {"values": [0,4,8,12,16,20,24,28,32,36,40], "gridColor": "#33dd33", "title": ["F", "──", "pN"]}},
                  "y": {"field": "v", "type": "quantitative", "scale": {"domain": [0, 5], "nice": false}, "axis": {"values": [0,1,2,3,4,5], "gridColor": "#33dd33"}},
                  "color": {"field": "s", "type": "nominal", "scale": {"domain": ["r","b","g"], "range": ["#ff0000","#0000ff","#22b022"]},
                    "legend": {"title": null, "legendX": -100, "legendY": 40, "rowPadding": 0, "symbolType": "M-1,2.4L1,2.4",
                      "labelExpr": "{'r':['g(1,10,ko2)','────────','\u200b\u00a0\u00a0\u00a0\u00a0\u00a0\u00a0\u00a0r(1,F)'],'b':['g(2,10,ko2)','────────','\u200b\u00a0\u00a0\u00a0\u00a0\u00a0\u00a0\u00a0r(2,F)'],'g':['g(3,10,ko2)','────────','\u200b\u00a0\u00a0\u00a0\u00a0\u00a0\u00a0\u00a0r(3,F)']}[datum.value]"}}
                }
              }
            ]
          },
          {
            "spacing": -42,
            "resolve": {"scale": {"x": "independent", "y": "independent", "color": "independent", "shape": "independent"}},
            "vconcat": [
              {"width": 1, "height": 1, "view": {"stroke": null}, "data": {"values": [{}]}, "mark": {"type": "point", "opacity": 0}},
              {
                "title": {"text": "C", "offset": 26, "dx": 24},
                "width": 265, "height": 275,
                "data": {"name": "C"},
                "encoding": {
                  "x": {"field": "F", "type": "quantitative", "scale": {"domain": [0, 50], "nice": false}, "axis": {"values": [0,5,10,15,20,25,30,35,40,45,50], "title": ["F", "──", "pN"]}},
                  "y": {"field": "v", "type": "quantitative", "scale": {"domain": [0, 1.5], "nice": false}, "axis": {"values": [0, 0.5, 1, 1.5]}},
                  "color": {"field": "s", "type": "nominal", "scale": {"domain": ["r","b","g","o","k"], "range": ["#ff0000","#0000ff","#22b022","#ff8000","#000000"]},
                    "legend": {"title": null, "legendX": -147, "legendY": -1, "padding": 32,
                      "labelExpr": "{'r':['τ(3,F,ko2)'],'b':['τ(6,F,ko2)'],'g':['τ(10,F,ko2)'],'o':['τ(15,F,ko2)'],'k':['\u200b\u00a0\u00a0\u00a0\u00a0\u00a0\u00a0\u00a01','──────','\u200b\u00a0k_off2(F)']}[datum.value]"}}
                },
                "layer": [
                  {"data": {"values": [{"F": 13.774, "v": 1.533, "v2": -0.393}]}, "mark": {"type": "rule", "strokeWidth": 2}, "encoding": {"y2": {"field": "v2"}, "color": {"value": "#dadada"}}},
                  {"data": {"values": [{"F": 59.434, "v": 1.533, "v2": -0.393}]}, "mark": {"type": "rule", "strokeWidth": 2}, "encoding": {"y2": {"field": "v2"}, "color": {"value": "#8c8c8c"}}},
                  {"mark": "line"},
                  {"transform": [{"filter": "false"}], "mark": {"type": "point", "filled": false, "opacity": 1},
                   "encoding": {"shape": {"field": "s", "type": "nominal", "scale": {"domain": ["r","b","g","o","k"], "range": ["M-1,0.35L1,0.35","M-1,0.35L1,0.35","M-1,0.35L1,0.35","M-1,0.35L1,0.35","M-1,2.4L1,2.4"]}}}}
                ]
              }
            ]
          }
        ]
      }
    ]
  },
  {
    "spacing": -101,
    "resolve": {"scale": {"x": "independent", "y": "independent", "color": "independent", "shape": "independent"}},
    "hconcat": [
      {
        "width": 1, "height": 1, "view": {"stroke": null},
        "data": {"values": [{"x": -121, "y": 32, "y2": -394}]},
        "mark": {"type": "rule", "color": "#8c8c8c", "strokeWidth": 2},
        "encoding": {
          "x": {"field": "x", "type": "quantitative", "scale": {"domain": [0, 1], "nice": false, "zero": false}, "axis": null},
          "y": {"field": "y", "type": "quantitative", "scale": {"domain": [0, 1], "nice": false, "zero": false}, "axis": null},
          "y2": {"field": "y2"}
        }
      },
      {
        "spacing": 3,
        "resolve": {"scale": {"x": "independent", "y": "independent", "color": "independent", "shape": "independent"}},
        "hconcat": [
          {
            "title": {"text": "D", "offset": 14, "dx": 1},
            "width": 288, "height": 259,
            "data": {"name": "D"},
            "mark": "line",
            "encoding": {
              "x": {"field": "F", "type": "quantitative", "scale": {"domain": [0, 40], "nice": false}, "axis": {"values": [0,5,10,15,20,25,30,35,40], "title": ["F", "──", "pN"]}},
              "y": {"field": "v", "type": "quantitative", "scale": {"domain": [0, 4], "nice": false}, "axis": {"values": [0, 1, 2, 3]}},
              "color": {"field": "s", "type": "nominal", "scale": {"domain": ["r","b","g","k"], "range": ["#ff0000","#0000ff","#22b022","#000000"]},
                "legend": {"title": null, "legendX": -100, "legendY": 57,
                  "labelExpr": "{'r':['τ(10,F,ko2)'],'b':['τ(20,F,ko2)'],'g':['τ(30,F,ko2)'],'k':['k_off2(F)⁻¹']}[datum.value]"}}
            }
          },
          {
            "title": {"text": "E", "offset": 9, "dx": 18},
            "width": 264, "height": 266,
            "data": {"name": "E"},
            "encoding": {
              "x": {"field": "F", "type": "quantitative", "scale": {"domain": [0, 50], "nice": false}, "axis": {"values": [0,5,10,15,20,25,30,35,40,45,50], "title": ["F", "──", "pN"]}},
              "y": {"field": "v", "type": "quantitative", "scale": {"domain": [0, 4], "nice": false}, "axis": {"values": [0, 1, 2, 3, 4]}},
              "color": {"field": "s", "type": "nominal", "scale": {"domain": ["r","b","g","k"], "range": ["#ff0000","#0000ff","#22b022","#000000"]},
                "legend": {"title": null, "legendX": -125, "legendY": 47,
                  "labelExpr": "{'r':['τ(20,F,0.5·Hz)'],'b':['τ(20,F,1·Hz)'],'g':['τ(20,F,1.5·Hz)'],'k':['\u200b\u00a0\u00a0\u00a0\u00a0\u00a0\u00a0\u00a01','──────','\u200b\u00a0k_off2(F)']}[datum.value]"}}
            },
            "layer": [
              {"mark": "line"},
              {"transform": [{"filter": "false"}], "mark": {"type": "point", "filled": false, "opacity": 1},
               "encoding": {"shape": {"field": "s", "type": "nominal", "scale": {"domain": ["r","b","g","k"], "range": ["M-1,0.35L1,0.35","M-1,0.35L1,0.35","M-1,0.35L1,0.35","M-1,2.4L1,2.4"]}}}}
            ]
          },
          {
            "title": {"text": "F", "offset": 6, "dx": 34},
            "width": 254, "height": 275,
            "data": {"name": "F"},
            "encoding": {
              "x": {"field": "F", "type": "quantitative", "scale": {"domain": [0, 50], "nice": false}, "axis": {"values": [0,5,10,15,20,25,30,35,40,45,50], "title": ["F", "──", "pN"]}},
              "y": {"field": "v", "type": "quantitative", "scale": {"domain": [0, 2], "nice": false}, "axis": {"values": [0, 0.5, 1, 1.5, 2]}},
              "color": {"field": "s", "type": "nominal", "scale": {"domain": ["r","b","g","o","k"], "range": ["#ff0000","#0000ff","#22b022","#ff8000","#000000"]},
                "legend": {"title": null, "legendX": -183, "legendY": -2, "padding": 34,
                  "labelExpr": "{'r':['τ_(20,F,ko2,5)'],'b':['τ_(20,F,ko2,10)'],'g':['τ_(20,F,ko2,15)'],'o':['τ_(20,F,ko2,20)'],'k':['\u200b\u00a0\u00a0\u00a0\u00a0\u00a0\u00a0\u00a01','──────','\u200b\u00a0k_off2(F)']}[datum.value]"}}
            },
            "layer": [
              {"data": {"values": [{"F": 9.843, "v": 2.044, "v2": -0.865}]}, "mark": {"type": "rule", "strokeWidth": 2}, "encoding": {"y2": {"field": "v2"}, "color": {"value": "#dadada"}}},
              {"data": {"values": [{"F": 57.48, "v": 2.044, "v2": -0.865}]}, "mark": {"type": "rule", "strokeWidth": 2}, "encoding": {"y2": {"field": "v2"}, "color": {"value": "#8c8c8c"}}},
              {"mark": "line"},
              {"transform": [{"filter": "false"}], "mark": {"type": "point", "filled": false, "opacity": 1},
               "encoding": {"shape": {"field": "s", "type": "nominal", "scale": {"domain": ["r","b","g","o","k"], "range": ["M-1,0.35L1,0.35","M-1,0.35L1,0.35","M-1,0.35L1,0.35","M-1,0.35L1,0.35","M-1,2.4L1,2.4"]}}}}
            ]
          }
        ]
      }
    ]
  }
]
}
